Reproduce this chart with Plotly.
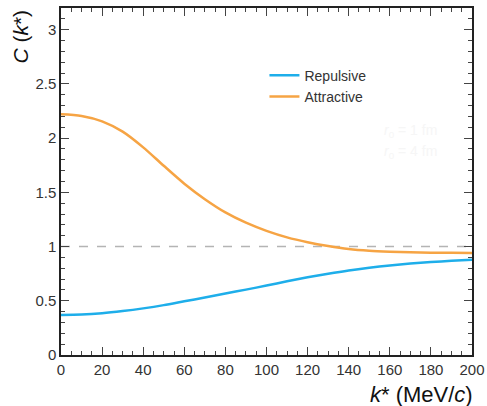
import plotly.graph_objects as go

k_star = [0, 10, 20, 30, 40, 50, 60, 70, 80, 90, 100, 110, 120, 130, 140, 150, 160, 170, 180, 190, 200]
c_repulsive = [0.37, 0.373, 0.385, 0.405, 0.43, 0.46, 0.495, 0.53, 0.567, 0.603, 0.64, 0.68, 0.717, 0.75, 0.78, 0.805, 0.826, 0.843, 0.857, 0.869, 0.879]
c_attractive = [2.22, 2.205, 2.155, 2.06, 1.915, 1.745, 1.58, 1.437, 1.315, 1.22, 1.145, 1.085, 1.04, 1.005, 0.978, 0.962, 0.953, 0.947, 0.944, 0.942, 0.941]
x_ticks = [0, 20, 40, 60, 80, 100, 120, 140, 160, 180, 200]
y_ticks = [0, 0.5, 1, 1.5, 2, 2.5, 3]
y_tick_labels = ["0", "0.5", "1", "1.5", "2", "2.5", "3"]

FONT = "Liberation Sans, Arial, sans-serif"

fig = go.Figure()
fig.add_trace(go.Scatter(x=k_star, y=c_repulsive, mode="lines", name="Repulsive",
                         line=dict(color="#1eaeea", width=2.5, shape="spline", smoothing=0.8)))
fig.add_trace(go.Scatter(x=k_star, y=c_attractive, mode="lines", name="Attractive",
                         line=dict(color="#f6a444", width=2.5, shape="spline", smoothing=0.8)))
fig.add_hline(y=1, line=dict(color="#b4b4b4", width=1.5, dash="dash"), layer="below")

axis_common = dict(showgrid=False, zeroline=False, showline=True, linecolor="#222",
                   linewidth=1.5, mirror="ticks", ticks="inside", tickcolor="#444",
                   tickwidth=1.2, ticklen=8, automargin=False,
                   tickfont=dict(family=FONT, size=15, color="#333"))

fig.update_xaxes(range=[0, 200], tickvals=x_ticks, ticktext=[str(v) for v in x_ticks],
                 minor=dict(dtick=5, ticklen=4, ticks="inside", tickcolor="#444", tickwidth=1.2),
                 **axis_common)
fig.update_yaxes(range=[0, 3.2], tickvals=y_ticks, ticktext=y_tick_labels,
                 minor=dict(dtick=0.1, ticklen=4, ticks="inside", tickcolor="#444", tickwidth=1.2),
                 **axis_common)

fig.update_layout(
    width=487, height=406, autosize=False,
    margin=dict(l=61, r=15, t=8, b=51),
    plot_bgcolor="white", paper_bgcolor="white",
    showlegend=True,
    legend=dict(x=0.495, y=0.851, xanchor="left", yanchor="top",
                bgcolor="rgba(0,0,0,0)", font=dict(family=FONT, size=14, color="#333"),
                tracegroupgap=0, itemwidth=30),
    annotations=[
        dict(text="<i>C</i> (<i>k</i>*)", textangle=-90, xref="paper", yref="paper",
             x=-0.068, y=1.0, xanchor="right", yanchor="top", showarrow=False,
             font=dict(family=FONT, size=21, color="#111")),
        dict(text="<i>k</i>* (MeV/<i>c</i>)", xref="paper", yref="paper",
             x=1.008, y=-0.072, xanchor="right", yanchor="top", showarrow=False,
             font=dict(family=FONT, size=22, color="#111")),
        dict(text="<i>r</i><sub>0</sub> = 1 fm", xref="paper", yref="paper",
             x=0.782, y=0.645, xanchor="left", yanchor="middle", showarrow=False,
             font=dict(family=FONT, size=14, color="#f6f6f6")),
        dict(text="<i>r</i><sub>0</sub> = 4 fm", xref="paper", yref="paper",
             x=0.782, y=0.585, xanchor="left", yanchor="middle", showarrow=False,
             font=dict(family=FONT, size=14, color="#f6f6f6")),
    ],
)

fig.write_html("out.html",
               config={"displayModeBar": False, "responsive": False},
               post_script="document.body.style.margin='0';document.body.style.overflow='hidden';")
